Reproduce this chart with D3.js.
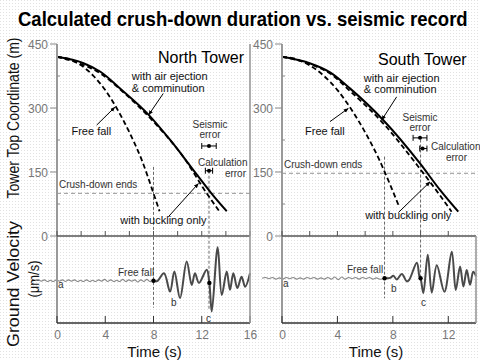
<!DOCTYPE html>
<html><head><meta charset="utf-8">
<script src="https://cdn.jsdelivr.net/npm/d3@7"></script>
<style>
body{margin:0;background:#fff}
svg{display:block}
text{font-family:"Liberation Sans",Arial,sans-serif}
</style>
</head><body>
<svg id="c" width="480" height="360"></svg>
<script>
// ---------------- data ----------------
const title = "Calculated crush-down duration vs. seismic record";
const yTicks = [0, 150, 300, 450];
const yMinorTicks = [75, 225, 375];
const xTicksN = [0, 4, 8, 12, 16];
const xTicksS = [0, 4, 8, 12];
const xMinorN = [2, 6, 10, 14];
const xMinorS = [2, 6, 10];

// North Tower (time s, tower top coordinate m)
const nAirT  = [0, 2.2, 3.6, 5.3, 7.6, 9.5, 11.45, 12.8, 14.07];
const nAirH  = [420, 405, 385, 344, 284, 221, 149, 100, 58];
const nBuckT = [0, 1.6, 3.6, 5.5, 8.0, 10.75, 12.13, 13.45];
const nBuckH = [420, 407, 381, 337, 268, 174, 112, 58];
const nFreeT = [0, 1, 2, 3, 4, 5, 6, 7, 8, 8.5];
const nFreeH = [420, 415, 400, 376, 342, 297, 243, 180, 100, 58];

// South Tower
const sAirT  = [0, 2, 3.5, 4.9, 7.3, 9.96, 11.4, 12.72];
const sAirH  = [420, 405, 383, 346, 272, 170, 108, 57];
const sBuckT = [0, 2, 3.5, 4.9, 7.3, 9.9, 11.2, 12.24];
const sBuckH = [420, 403, 380, 340, 264, 160, 104, 57];
const sFreeT = [0, 1, 2, 3, 4, 5, 6, 7, 7.4, 8.4];
const sFreeH = [420, 415, 400, 376, 342, 297, 243, 180, 151, 73];

// seismic records (relative ground velocity)
const nPreStart = -1.8, nPreStep = 0.25;
const nPreV = [0,0.02,-0.01,0.02,-0.02,0.01,-0.02,0.02,-0.01,0.02,-0.02,0.02,-0.01,0.02,-0.02,0.01,-0.02,0.02,-0.02,0.01,
               -0.02,0.02,-0.01,0.03,-0.02,0.02,-0.02,0.01,-0.02,0.03,-0.02,0.02,-0.01,0.02,-0.03,0.02,-0.02,0.03,-0.02,0.01];
const nPostT = [8.0, 8.3, 8.87, 9.37, 9.73, 10.2, 10.75, 11.17, 11.44, 11.77, 12.41, 12.63, 12.83, 13.32, 13.66, 14.07, 14.34, 14.62, 14.95, 15.3, 15.6, 16.0];
const nPostV = [0, -0.01, 0.17, -0.25, 0.21, -0.40, 0.44, -0.10, 0.17, -0.05, 0.25, -0.05, -0.71, 0.77, -0.33, 0.21, -0.21, 0.17, -0.17, 0.09, -0.14, 0.17];

const sPreStart = -1.44, sPreStep = 0.25;
const sPreV = [0,0.02,-0.01,0.02,-0.02,0.01,-0.02,0.02,-0.01,0.02,-0.02,0.01,-0.02,0.02,-0.01,0.02,-0.02,0.01,-0.02,0.02,
               -0.02,0.03,-0.03,0.03,-0.02,0.02,-0.01,0.02,-0.02,0.02,-0.01,0.02,-0.02,0.01,-0.02];
const sPostT = [7.4, 7.8, 8.04, 8.28, 8.65, 9.0, 9.17, 9.73, 9.92, 10.0, 10.2, 10.52, 10.81, 11.17, 11.72, 12.25, 12.54, 12.85, 13.09, 13.33, 13.57, 13.8, 14.0];
const sPostV = [0, 0.01, 0.06, -0.03, 0.10, -0.07, -0.04, 0.36, 0.04, 0, -0.34, 0.54, -0.33, 0.30, -0.31, 0.61, -0.27, 0.27, -0.19, 0.19, -0.15, 0.15, 0.05];

// ---------------- drawing ----------------
const svg = d3.select("#c");
const defs = svg.append("defs");
const pat = defs.append("pattern").attr("id","dots").attr("width",3).attr("height",3).attr("patternUnits","userSpaceOnUse");
pat.append("rect").attr("width",1).attr("height",1).attr("fill","#e2e2e2");
defs.append("marker").attr("id","arr").attr("viewBox","0 0 10 10").attr("refX",9).attr("refY",5)
  .attr("markerWidth",5).attr("markerHeight",5).attr("orient","auto")
  .append("path").attr("d","M0,1L10,5L0,9z").attr("fill","#000");

svg.append("rect").attr("width",480).attr("height",360).attr("fill","#fff");
svg.append("rect").attr("width",480).attr("height",360).attr("fill","url(#dots)");

// title: measure natural width, then compress horizontally to fit
const tt = svg.append("text").attr("x",0).attr("y",0).attr("font-size",20).attr("font-weight","bold")
  .attr("fill","#000").text(title);
const tw = tt.node().getComputedTextLength();
tt.attr("transform",`translate(18,26) scale(${450/tw},1)`);

// axis titles
svg.append("text").attr("transform","translate(19,118) rotate(-90)").attr("text-anchor","middle")
  .attr("font-size",17).attr("textLength",161).attr("lengthAdjust","spacingAndGlyphs").attr("fill","#111")
  .text("Tower Top Coordinate (m)");
svg.append("text").attr("transform","translate(19,284) rotate(-90)").attr("text-anchor","middle")
  .attr("font-size",17).attr("textLength",126).attr("lengthAdjust","spacingAndGlyphs").attr("fill","#111")
  .text("Ground Velocity");
svg.append("text").attr("transform","translate(39,279) rotate(-90)").attr("text-anchor","middle")
  .attr("font-size",15).attr("textLength",37).attr("lengthAdjust","spacingAndGlyphs").attr("fill","#111")
  .text("(μm/s)");

const yTop = d3.scaleLinear().domain([0,450]).range([236,44]);

function panel(cfg){
  const x = d3.scaleLinear().domain(cfg.xDomain).range(cfg.xRange);
  const yB = d3.scaleLinear().domain([-1,1]).range([cfg.zeroY+43.5, cfg.zeroY-43.5]);
  const g = svg.append("g");
  const x0 = cfg.xRange[0], x1 = cfg.xRange[1];

  // crush-down ends line
  g.append("line").attr("x1",x0).attr("x2",x1).attr("y1",yTop(cfg.crushH)).attr("y2",yTop(cfg.crushH))
    .attr("stroke","#777").attr("stroke-width",0.8).attr("stroke-dasharray","4,3");
  g.append("text").attr("x",x0+2).attr("y",yTop(cfg.crushH)-5).attr("font-size",10).attr("fill","#333").text("Crush-down ends");

  // vertical dashed lines
  cfg.vlines.forEach(v=>{
    g.append("line").attr("x1",x(v.t)).attr("x2",x(v.t)).attr("y1",yTop(v.hTop)).attr("y2",yB(v.vBot))
      .attr("stroke","#444").attr("stroke-width",0.8).attr("stroke-dasharray","3,2");
  });

  // curves
  const line = d3.line().x(d=>x(d[0])).y(d=>yTop(d[1])).curve(d3.curveMonotoneX);
  g.append("path").attr("d",line(d3.zip(cfg.freeT,cfg.freeH))).attr("fill","none")
    .attr("stroke","#000").attr("stroke-width",1.8).attr("stroke-dasharray","5,3");
  g.append("path").attr("d",line(d3.zip(cfg.buckT,cfg.buckH))).attr("fill","none")
    .attr("stroke","#000").attr("stroke-width",1.8).attr("stroke-dasharray","5,3");
  g.append("path").attr("d",line(d3.zip(cfg.airT,cfg.airH))).attr("fill","none")
    .attr("stroke","#000").attr("stroke-width",2);

  // seismic record
  const sl = d3.line().x(d=>x(d[0])).y(d=>yB(d[1])).curve(d3.curveCatmullRom.alpha(0.5));
  const pre = cfg.preV.map((v,i)=>[cfg.preStart+i*cfg.preStep, v]);
  pre.push([cfg.postT[0], cfg.postV[0]]);
  g.append("path").attr("d",sl(pre)).attr("fill","none").attr("stroke","#888").attr("stroke-width",1.1);
  g.append("path").attr("d",sl(d3.zip(cfg.postT,cfg.postV))).attr("fill","none").attr("stroke","#4a4a4a").attr("stroke-width",2);

  // axes
  const axY = g.append("g").attr("transform",`translate(${x0},0)`);
  axY.append("line").attr("y1",44).attr("y2",323).attr("stroke","#9a9a9a").attr("stroke-width",2);
  yTicks.forEach(t=>{
    axY.append("line").attr("x1",-7).attr("x2",0).attr("y1",yTop(t)).attr("y2",yTop(t)).attr("stroke","#888").attr("stroke-width",1);
    axY.append("text").attr("x",-9).attr("y",yTop(t)+4.5).attr("text-anchor","end").attr("font-size",12).attr("fill","#777").text(t);
  });
  yMinorTicks.forEach(t=>{
    axY.append("line").attr("x1",0).attr("x2",3).attr("y1",yTop(t)).attr("y2",yTop(t)).attr("stroke","#888").attr("stroke-width",1);
  });
  // top panel x-axis
  g.append("line").attr("x1",x0).attr("x2",x1).attr("y1",236).attr("y2",236).attr("stroke","#555").attr("stroke-width",1.4);
  cfg.xTicks.concat(cfg.xMinor).forEach(t=>{
    g.append("line").attr("x1",x(t)).attr("x2",x(t)).attr("y1",236).attr("y2",231).attr("stroke","#555").attr("stroke-width",1);
  });
  // bottom axis
  g.append("line").attr("x1",x0).attr("x2",x1).attr("y1",323).attr("y2",323).attr("stroke","#333").attr("stroke-width",1.4);
  const xa = d3.axisBottom(x).tickValues(cfg.xTicks).tickSize(0).tickPadding(0).tickFormat(d3.format("d"));
  const ga = g.append("g").attr("transform","translate(0,323)").call(xa);
  ga.select(".domain").remove();
  ga.selectAll("text").attr("font-size",12).attr("fill","#777").attr("dy",null).attr("y",16)
    .attr("font-family","Liberation Sans, Arial, sans-serif");
  cfg.xTicks.forEach(t=>{
    g.append("line").attr("x1",x(t)).attr("x2",x(t)).attr("y1",323).attr("y2",316).attr("stroke","#333").attr("stroke-width",1);
  });
  // right border
  g.append("line").attr("x1",x1).attr("x2",x1).attr("y1",cfg.borderTop).attr("y2",323).attr("stroke","#9a9a9a").attr("stroke-width",1.6);

  g.append("text").attr("x",(x0+x1)/2 + cfg.timeDx).attr("y",357).attr("text-anchor","middle").attr("font-size",15)
    .attr("fill","#111").text("Time (s)");

  // titles and labels
  g.append("text").attr("x",cfg.nameX).attr("y",cfg.nameY).attr("font-size",16).attr("fill","#000").text(cfg.name);
  g.append("text").attr("x",x(cfg.airText[0])).attr("y",yTop(cfg.airText[1])).attr("font-size",11).attr("fill","#111")
    .selectAll("tspan").data(["with air ejection","& comminution"]).join("tspan")
    .attr("x",x(cfg.airText[0])).attr("dy",(d,i)=>i?11.5:0).text(d=>d);
  g.append("text").attr("x",x(cfg.freeText[0])).attr("y",yTop(cfg.freeText[1])).attr("font-size",11).attr("fill","#111").text("Free fall");
  g.append("text").attr("x",x(cfg.buckText[0])).attr("y",yTop(cfg.buckText[1])).attr("font-size",11).attr("fill","#111").text("with buckling only");

  cfg.arrows.forEach(a=>{
    g.append("line").attr("x1",x(a[0])).attr("y1",yTop(a[1])).attr("x2",x(a[2])).attr("y2",yTop(a[3]))
      .attr("stroke","#000").attr("stroke-width",1).attr("marker-end","url(#arr)");
  });

  // error bars
  function ebar(tc, half, h, tdot){
    const yy = yTop(h);
    g.append("line").attr("x1",x(tc-half)).attr("x2",x(tc+half)).attr("y1",yy).attr("y2",yy).attr("stroke","#000").attr("stroke-width",1);
    [tc-half, tc+half].forEach(t=>g.append("line").attr("x1",x(t)).attr("x2",x(t)).attr("y1",yy-3).attr("y2",yy+3).attr("stroke","#000").attr("stroke-width",1));
    g.append("circle").attr("cx",x(tdot)).attr("cy",yy).attr("r",2).attr("fill","#000");
  }
  ebar(...cfg.seisBar);
  ebar(...cfg.calcBar);
  const st = g.append("text").attr("font-size",10).attr("fill","#333").attr("text-anchor","middle");
  st.append("tspan").attr("x",cfg.seisTextX).attr("y",cfg.seisTextY).text("Seismic");
  st.append("tspan").attr("x",cfg.seisTextX).attr("y",cfg.seisTextY+10).text("error");
  g.append("text").attr("x",cfg.calcTextX).attr("y",cfg.calcTextY).attr("font-size",10).attr("fill","#333").text("Calculation");
  g.append("text").attr("x",cfg.calcErrX).attr("y",cfg.calcTextY+11).attr("font-size",10).attr("fill","#333").attr("text-anchor","end").text("error");

  // seismic labels
  cfg.dots.forEach(d=>g.append("circle").attr("cx",x(d[0])).attr("cy",yB(d[1])).attr("r",2.2).attr("fill","#000"));
  g.append("text").attr("x",cfg.ffX).attr("y",cfg.ffY).attr("font-size",10).attr("fill","#333").text("Free fall");
  cfg.abc.forEach(l=>g.append("text").attr("x",l[1]).attr("y",l[2]).attr("font-size",10).attr("fill","#333").text(l[0]));
}

panel({
  xDomain:[0,16], xRange:[57,250], zeroY:280.7, crushH:100, borderTop:44, timeDx:1,
  xTicks:xTicksN, xMinor:xMinorN,
  airT:nAirT, airH:nAirH, buckT:nBuckT, buckH:nBuckH, freeT:nFreeT, freeH:nFreeH,
  preStart:nPreStart, preStep:nPreStep, preV:nPreV, postT:nPostT, postV:nPostV,
  vlines:[{t:8, hTop:162, vBot:-0.62},{t:12.6, hTop:153, vBot:-0.68}],
  name:"North Tower", nameX:158, nameY:63,
  airText:[6.2, 365], freeText:[1.2, 237], buckText:[5.25, 28],
  arrows:[[8.81,334,7.6,284],[3.29,260,4.8,302],[9.23,45,11.72,123]],
  seisBar:[12.6,0.6,211,12.6], calcBar:[12.6,0.3,153,12.6],
  seisTextX:210, seisTextY:128, calcTextX:198, calcTextY:166, calcErrX:246,
  dots:[[8,0],[12.63,-0.05]], ffX:118, ffY:276,
  abc:[["a",58,288],["b",171,306],["c",206,322]]
});

panel({
  xDomain:[0,14], xRange:[282,476], zeroY:278.3, crushH:147, borderTop:236, timeDx:-3,
  xTicks:xTicksS, xMinor:xMinorS,
  airT:sAirT, airH:sAirH, buckT:sBuckT, buckH:sBuckH, freeT:sFreeT, freeH:sFreeH,
  preStart:sPreStart, preStep:sPreStep, preV:sPreV, postT:sPostT, postV:sPostV,
  vlines:[{t:7.4, hTop:186, vBot:-0.46},{t:10.0, hTop:226, vBot:0}],
  name:"South Tower", nameX:378, nameY:65,
  airText:[5.9, 361], freeText:[1.66, 237], buckText:[6.0, 40],
  arrows:[[8.27,326,7.2,272],[3.46,268,4.78,299],[8.4,55,10.68,127]],
  seisBar:[9.96,0.5,230,9.96], calcBar:[10.2,0.26,205,10.15],
  seisTextX:420, seisTextY:121, calcTextX:431, calcTextY:150, calcErrX:467,
  dots:[[7.4,0],[10.0,0]], ffX:347, ffY:273,
  abc:[["a",283,287],["b",391,292],["c",421,306]]
});
</script>
</body></html>
